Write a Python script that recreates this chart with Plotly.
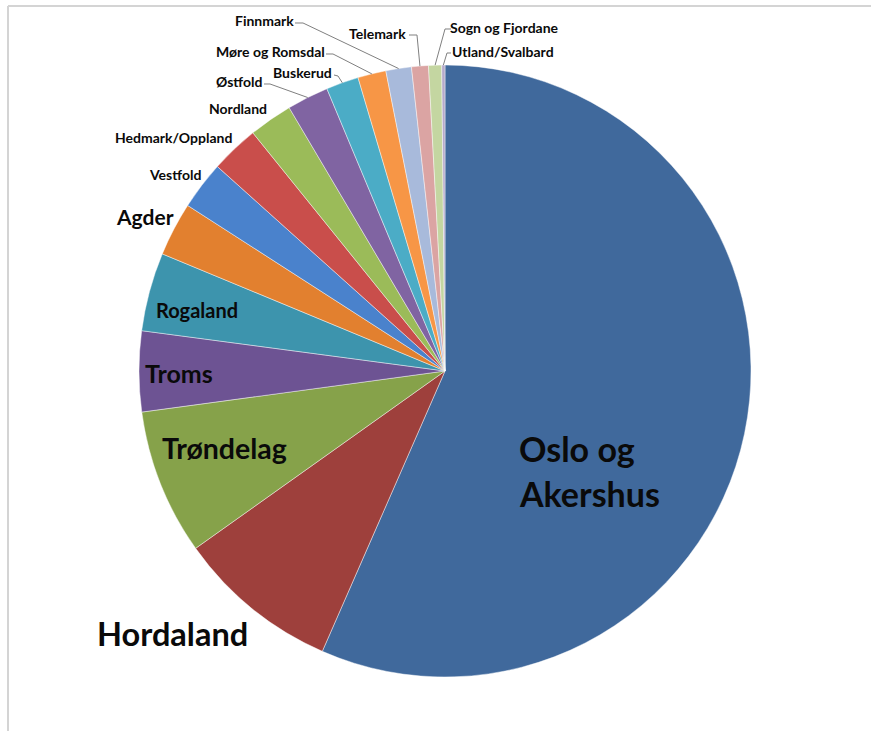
import math
import plotly.graph_objects as go

# ---- data (shares in percent) ----
regions = ["Oslo og Akershus", "Hordaland", "Trøndelag", "Troms", "Rogaland",
           "Agder", "Vestfold", "Hedmark/Oppland", "Nordland", "Østfold",
           "Buskerud", "Møre og Romsdal", "Finnmark", "Telemark",
           "Sogn og Fjordane", "Utland/Svalbard"]
shares = [56.6, 8.6, 7.7, 4.25, 4.15, 2.85, 2.55, 2.55, 2.3, 2.2,
          1.72, 1.49, 1.35, 0.89, 0.69, 0.17]
colors = ["#40699C", "#9E403C", "#86A24A", "#6D5393", "#3D94AD", "#E2802F",
          "#4A82CC", "#C94E4B", "#9BBB59", "#8064A2", "#4BACC6", "#F79646",
          "#A8BADB", "#DBA4A3", "#C4D6A1", "#B5AACB"]

# ---- layout (pixels) ----
W, H = 871, 731
CX, CY, R = 445, 371, 306

# label: (center x, center y, font size, leader path start points or None)
label_layout = {
    "Oslo og Akershus": (None, None, 34, None),
    "Hordaland": (172, 633, 32.5, None),
    "Trøndelag": (224, 448, 28.5, None),
    "Troms": (179, 373, 25, None),
    "Rogaland": (197, 310, 20, None),
    "Agder": (145, 217, 21, None),
    "Vestfold": (175, 174, 14, None),
    "Hedmark/Oppland": (173, 137, 14, None),
    "Nordland": (238, 109, 14, None),
    "Østfold": (239, 82, 14, [(264, 84), (270, 84)]),
    "Buskerud": (302, 72, 14, [(334, 75), (338, 76)]),
    "Møre og Romsdal": (270, 52, 14, [(326, 54), (333, 54)]),
    "Finnmark": (264, 21, 14, [(295, 23), (303, 23)]),
    "Telemark": (377, 33, 14, [(409, 35), (417, 35)]),
    "Sogn og Fjordane": (505, 27, 14, [(451, 29), (445, 29)]),
    "Utland/Svalbard": (503, 52, 14, [(451, 53), (447, 53)]),
}

def px(x):
    return x / W

def py(y):
    return 1 - y / H

fig = go.Figure(go.Pie(
    labels=regions, values=shares, sort=False, direction="clockwise",
    rotation=0, textinfo="none", hoverinfo="label+percent",
    marker=dict(colors=colors, line=dict(color="rgba(255,255,255,0.55)", width=0.8)),
    domain=dict(x=[px(CX - R), px(CX + R)], y=[py(CY + R), py(CY - R)]),
    showlegend=False,
))

annotations = []
shapes = []
total = sum(shares)
cum = 0.0
FONT = "Lato, 'Open Sans', sans-serif"
for name, v in zip(regions, shares):
    mid = (cum + v / 2) / total * 2 * math.pi
    cum += v
    ex = CX + R * math.sin(mid)
    ey = CY - R * math.cos(mid)
    lx, ly, fs, lead = label_layout[name]
    if name == "Oslo og Akershus":
        for txt, yy in (("Oslo og", 448), ("Akershus", 493)):
            annotations.append(dict(x=px(517), y=py(yy), xref="paper", yref="paper",
                                    text="<b>" + txt + "</b>", showarrow=False,
                                    xanchor="left", yanchor="middle",
                                    font=dict(family=FONT, size=fs, color="#0A0A0A")))
        continue
    annotations.append(dict(x=px(lx), y=py(ly), xref="paper", yref="paper",
                            text="<b>" + name + "</b>", showarrow=False,
                            xanchor="center", yanchor="middle",
                            font=dict(family=FONT, size=fs, color="#0A0A0A")))
    if lead:
        pts = lead + [(ex, ey)]
        path = "M " + " L ".join(f"{px(a):.5f},{py(b):.5f}" for a, b in pts)
        shapes.append(dict(type="path", xref="paper", yref="paper", path=path,
                           line=dict(color="#808080", width=1)))

# chart-area frame (top and left edges visible)
shapes.append(dict(type="line", xref="paper", yref="paper",
                   x0=px(8), y0=py(6), x1=1.0, y1=py(6),
                   line=dict(color="#D4D4D4", width=2)))
shapes.append(dict(type="line", xref="paper", yref="paper",
                   x0=px(8), y0=py(6), x1=px(8), y1=0.0,
                   line=dict(color="#D4D4D4", width=2)))

fig.update_layout(
    width=W, height=H, margin=dict(l=0, r=0, t=0, b=0),
    paper_bgcolor="white", plot_bgcolor="white",
    annotations=annotations, shapes=shapes,
)

fig.write_html("out.html", config={"displayModeBar": False},
               post_script="document.body.style.margin='0';document.body.style.overflow='hidden';")
